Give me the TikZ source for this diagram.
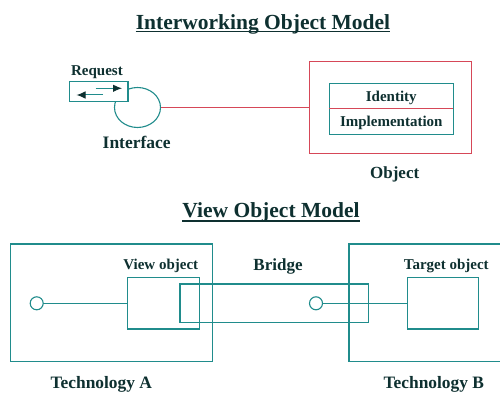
\documentclass[tikz,border=0pt]{standalone}
\usepackage{fontspec}
\setmainfont{Liberation Serif}
\usetikzlibrary{shapes.geometric,arrows.meta}
\definecolor{tealline}{RGB}{32,140,140}
\definecolor{redline}{RGB}{214,72,88}
\definecolor{inkdark}{RGB}{14,48,48}
\tikzset{
  box/.style={draw=tealline, line width=1.1pt, rectangle, inner sep=0pt, outer sep=0pt},
  redbox/.style={draw=redline, line width=1pt, rectangle, inner sep=0pt, outer sep=0pt},
  wire/.style={draw=tealline, line width=1.1pt},
  redwire/.style={draw=redline, line width=1pt},
  port/.style={draw=tealline, line width=1.1pt, circle, fill=white, minimum size=13pt, inner sep=0pt, outer sep=0pt},
  lbl/.style={text=inkdark, font=\bfseries, inner sep=0pt, anchor=base},
  title/.style={lbl, font=\bfseries\fontsize{21.5}{24}\selectfont},
  tip/.style={-{Latex[length=9pt,width=7.5pt,color=inkdark]}, draw=tealline, line width=1pt},
}
\begin{document}
\begin{tikzpicture}[x=1pt, y=-1pt]
\useasboundingbox (0,0) rectangle (500,395);
\fill[white] (0,0) rectangle (500,395);

% ---- Interworking object model ----
\node[title] (t1) at (263,29.5) {Interworking Object Model};
\draw[inkdark, line width=1.2pt] ([yshift=-2.4pt]t1.base west) -- ([yshift=-2.4pt]t1.base east);

\node[draw=tealline, line width=1.1pt, ellipse, minimum width=46pt, minimum height=40pt, inner sep=0pt, outer sep=0pt] (iface) at (137.5,107.5) {};
\node[box, fill=white, minimum width=58.5pt, minimum height=19.5pt] (req) at (98.7,91.5) {};
\coordinate (r1a) at (95.7,88.3);
\coordinate (r1b) at (122,88.3);
\coordinate (r2a) at (103,95);
\coordinate (r2b) at (76.5,95);
\draw[tip] (r1a) -- (r1b);
\draw[tip] (r2a) -- (r2b);

\node[lbl, font=\bfseries\fontsize{15}{17}\selectfont] (reqlbl) at (97,75.5) {Request};
\node[lbl, font=\bfseries\fontsize{17.5}{20}\selectfont] (ifacelbl) at (136.7,148.3) {Interface};

\node[redbox, minimum width=162pt, minimum height=92pt] (obj) at (390.7,107.5) {};
\node[box, minimum width=124pt, minimum height=25pt] (ident) at (391.3,95.8) {};
\node[box, minimum width=124pt, minimum height=26pt] (impl) at (391.3,121.3) {};
\draw[redwire] (ident.south west) -- (ident.south east);
\node[lbl, font=\bfseries\fontsize{15}{17}\selectfont] at (391.3,101.5) {Identity};
\node[lbl, font=\bfseries\fontsize{15}{17}\selectfont] at (391.3,126.5) {Implementation};
\node[lbl, font=\bfseries\fontsize{17}{20}\selectfont] (objlbl) at (394.7,178.5) {Object};

\draw[redwire] (iface.east) -- (iface.east -| obj.west);

% ---- View object model ----
\node[title] (t2) at (271,218) {View Object Model};
\draw[inkdark, line width=1.2pt] ([yshift=-3pt]t2.base west) -- ([yshift=-3pt]t2.base east);

\node[box, minimum width=202pt, minimum height=117.7pt] (techA) at (111.7,302.85) {};
\node[box, minimum width=153pt, minimum height=117.7pt] (techB) at (425.5,302.85) {};
\node[box, minimum width=72pt, minimum height=51.7pt] (view) at (163.3,303.15) {};
\node[box, minimum width=188.3pt, minimum height=38.3pt] (bridge) at (274.15,303.15) {};
\node[box, minimum width=70.6pt, minimum height=51.7pt] (target) at (443,303.15) {};

\node[port] (pA) at (36.7,303.3) {};
\node[port] (pB) at (316,303.3) {};
\draw[wire] (pA.east) -- (pA.east -| view.west);
\draw[wire] (pB.east) -- (pB.east -| target.west);

\node[lbl, font=\bfseries\fontsize{15}{17}\selectfont] at (160.8,269) {View object};
\node[lbl, font=\bfseries\fontsize{17}{20}\selectfont] at (278,270.5) {Bridge};
\node[lbl, font=\bfseries\fontsize{15}{17}\selectfont] at (446.3,269) {Target object};
\node[lbl, font=\bfseries\fontsize{17.4}{20}\selectfont] at (101.3,388.5) {Technology A};
\node[lbl, font=\bfseries\fontsize{17.4}{20}\selectfont] at (433.8,388.5) {Technology B};
\end{tikzpicture}
\end{document}
